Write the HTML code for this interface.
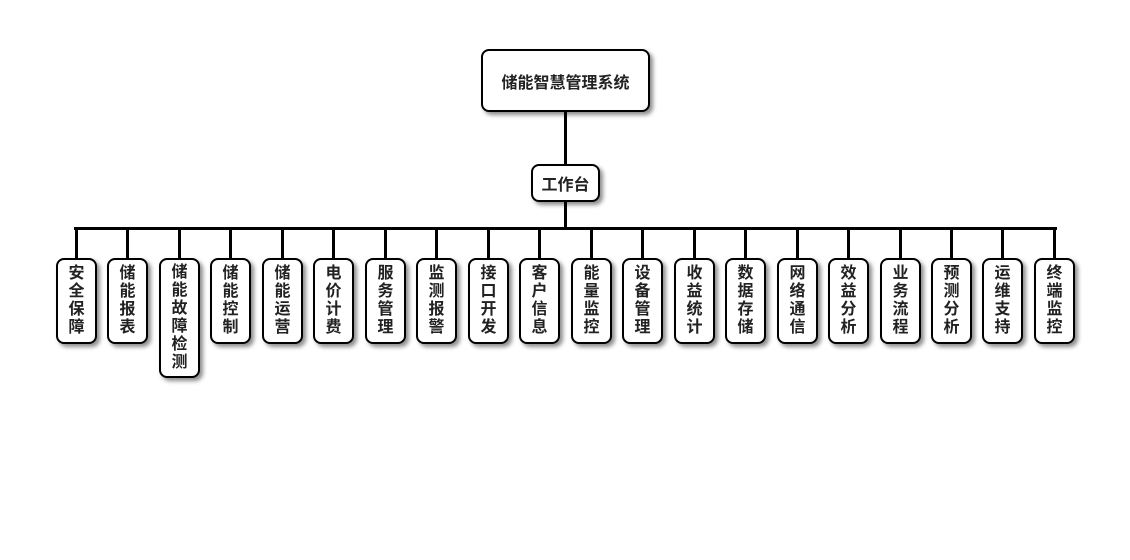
<!DOCTYPE html>
<html><head><meta charset="utf-8"><style>
body{margin:0;width:1130px;height:560px;background:#fff;position:relative;overflow:hidden;font-family:"Liberation Sans","Noto Sans CJK SC",sans-serif;}
.b{position:absolute;background:#fff;border:2px solid #000;border-radius:8px;box-shadow:3px 3px 4px rgba(0,0,0,0.45);box-sizing:border-box;font-weight:bold;color:#222;display:flex;align-items:center;justify-content:center;text-align:center;}
.l{position:absolute;background:#000;}
.v{font-size:16px;line-height:18px;width:18px;word-break:break-all;}
</style></head><body>
<div class="l" style="left:564px;top:110px;width:3px;height:55px"></div>
<div class="l" style="left:564px;top:201px;width:3px;height:28px"></div>
<div class="l" style="left:74px;top:227px;width:983px;height:3px"></div>
<div class="b" style="left:481px;top:49px;width:169px;height:63px;font-size:16px">储能智慧管理系统</div>
<div class="b" style="left:531px;top:164px;width:69px;height:38px;font-size:16px">工作台</div>
<div id="c"></div>
<script>
var n=["安全保障","储能报表","储能故障检测","储能控制","储能运营","电价计费","服务管理","监测报警","接口开发","客户信息","能量监控","设备管理","收益统计","数据存储","网络通信","效益分析","业务流程","预测分析","运维支持","终端监控"];
var h='';
for(var i=0;i<n.length;i++){var cx=Math.round(76+i*51.47);var ht=n[i].length>4?120:86;
h+='<div class="l" style="left:'+(cx-1)+'px;top:228px;width:3px;height:31px"></div>';
h+='<div class="b" style="left:'+(cx-20)+'px;top:258px;width:41px;height:'+ht+'px"><div class="v">'+n[i]+'</div></div>';}
document.getElementById('c').innerHTML=h;
</script>
</body></html>
